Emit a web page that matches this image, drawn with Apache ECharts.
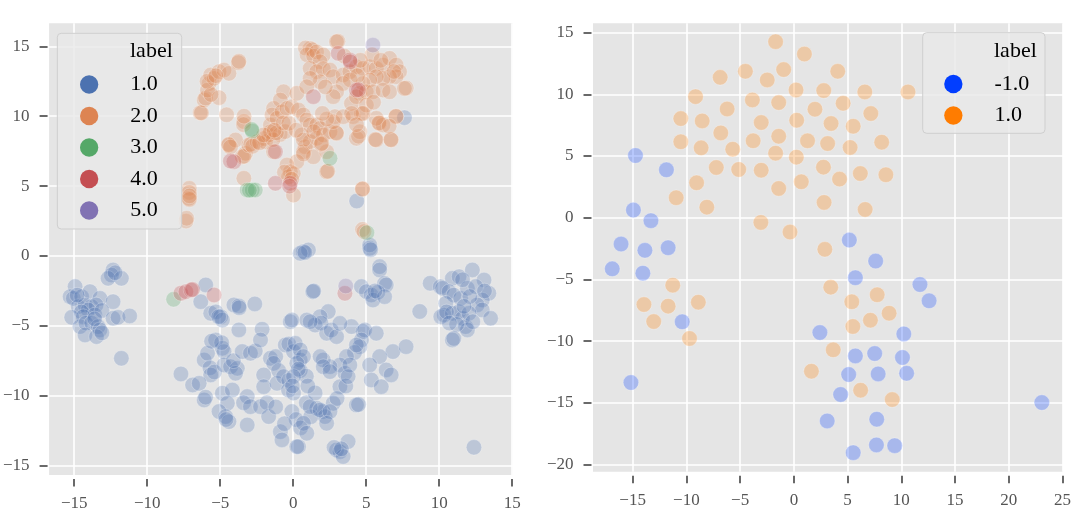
<!DOCTYPE html>
<html>
<head>
<meta charset="utf-8">
<script src="https://cdn.jsdelivr.net/npm/echarts@6/dist/echarts.min.js"></script>
<style>html,body{margin:0;padding:0;background:#fff}#c{width:1082px;height:512px}</style>
</head>
<body>
<div id="c"></div>
<script>
// ---------- tick labels ----------
const L_X_TICKS = [-15, -10, -5, 0, 5, 10, 15];
const L_Y_TICKS = [-15, -10, -5, 0, 5, 10, 15];
const R_X_TICKS = [-15, -10, -5, 0, 5, 10, 15, 20, 25];
const R_Y_TICKS = [-20, -15, -10, -5, 0, 5, 10, 15];

// ---------- left panel categories ----------
const L_LABELS = ['1.0', '2.0', '3.0', '4.0', '5.0'];
// ---------- right panel categories ----------
const R_LABELS = ['-1.0', '1.0'];

// left panel, label 1.0
const L1 = [
[0.7,0.31],[1.04,0.43],[0.48,0.19],[0.8,0.25],[5.24,0.55],[5.24,0.79],[5.3,0.45],[4.35,3.93],[7.62,9.9],
[5.92,-0.76],[5.92,-1.0],[6.26,-1.96],[6.37,-2.07],
[4.67,-2.19],[5.01,-2.55],[5.35,-2.79],[5.46,-3.15],[5.8,-2.6],[6.26,-2.91],[5.6,-2.5],
[1.34,-2.55],[1.4,-2.5],
[9.38,-1.95],[8.67,-3.97],[10.08,-2.2],[10.9,-1.6],[11.36,-1.48],[12.27,-1.0],[13.07,-1.72],[13.4,-2.67],
[10.23,-2.31],[10.68,-2.55],[11.0,-2.8],[11.47,-3.03],[11.93,-2.31],[12.5,-2.19],[12.95,-3.15],[12.6,-3.5],
[12.95,-3.86],[13.52,-4.46],[10.45,-3.39],[10.34,-4.22],[10.11,-4.34],[10.9,-4.1],[11.36,-3.98],[11.59,-4.46],
[11.81,-5.05],[11.93,-5.29],[11.2,-4.9],[12.04,-4.1],[10.9,-6.01],[11.0,-5.9],[12.1,-2.9],[13.1,-2.5],
[11.6,-1.7],[10.5,-4.0],[11.7,-3.6],[12.3,-4.7],[10.7,-4.8],[12.38,-13.69],
[-12.34,-1.0],[-12.45,-1.36],[-12.68,-1.6],[-11.77,-1.6],[-12.2,-1.2],
[-14.94,-2.19],[-15.28,-2.91],[-15.06,-3.03],[-14.49,-2.91],[-13.92,-2.55],[-13.24,-3.03],[-12.34,-3.27],
[-14.72,-3.62],[-14.26,-3.51],[-13.81,-3.62],[-13.5,-3.5],[-14.04,-3.86],[-14.5,-4.0],[-15.17,-4.39],
[-14.38,-4.34],[-13.58,-4.22],[-13.1,-3.9],[-12.34,-4.46],[-12.0,-4.39],[-11.2,-4.29],[-14.6,-5.05],
[-14.2,-4.8],[-13.8,-4.8],[-13.36,-5.05],[-13.24,-5.29],[-14.26,-5.65],[-13.47,-5.77],[-13.1,-5.5],
[-11.77,-7.32],[-14.8,-2.8],[-13.6,-4.5],
[-5.99,-2.07],[-6.33,-3.27],[-5.65,-4.1],[-5.3,-4.0],[-4.97,-4.34],[-4.85,-4.58],[-5.1,-4.34],[-4.06,-3.5],
[-3.72,-3.58],[-3.7,-3.7],[-2.63,-3.43],[-3.72,-5.29],[-2.13,-5.24],[-0.2,-4.7],
[-5.31,-6.01],[-4.85,-6.6],[-4.74,-6.84],[-4.9,-6.2],[-6.1,-7.44],[-5.87,-6.96],[-5.7,-8.0],[-5.65,-8.51],
[-5.4,-8.3],[-4.74,-7.8],[-4.29,-7.92],[-3.83,-8.04],[-3.95,-8.39],[-4.1,-7.5],[-3.49,-6.84],[-2.93,-6.96],
[-2.6,-6.8],[-2.24,-6.01],[-1.56,-7.32],[-1.2,-7.2],[-1.34,-7.68],[-2.02,-8.51],[-1.0,-8.2],[-0.54,-6.37],
[-0.3,-6.3],[0.02,-6.84],[0.48,-7.44],[0.48,-8.2],[0.9,-8.6],[-7.69,-8.44],[-6.89,-9.23],[-6.44,-9.11],
[-6.1,-10.3],[-6.0,-10.1],[-4.85,-9.82],[-4.17,-9.59],[-4.51,-10.54],[-5.08,-11.13],[-4.63,-11.49],
[-4.4,-11.85],[-4.6,-11.7],[-3.15,-10.06],[-3.4,-10.5],[-2.93,-10.78],[-3.15,-12.09],[-2.24,-10.78],
[-1.8,-10.5],[-1.68,-11.49],[-1.2,-10.8],[-2.02,-9.35],[-1.11,-9.11],[-0.66,-8.63],[-0.3,-8.9],
[-0.32,-9.59],[0.02,-9.8],[-0.09,-11.13],[0.2,-11.7],[-0.88,-12.57],[-0.77,-13.16],[0.36,-13.64],
[0.5,-12.3],[0.9,-10.5],[-0.6,-12.0],[-5.59,-6.1],
[2.4,-3.98],[1.84,-4.34],[1.5,-4.94],[1.9,-4.8],[2.29,-5.53],[0.93,-4.58],[-0.09,-4.58],[1.16,-4.7],
[2.6,-5.3],[2.97,-5.77],[3.99,-5.05],[4.78,-5.41],[4.9,-5.29],[5.69,-5.53],[4.67,-6.01],[4.56,-6.49],
[4.2,-6.9],[6.83,-6.84],[7.73,-6.49],[5.92,-7.2],[5.24,-7.8],[6.37,-8.15],[6.71,-8.51],[5.35,-8.87],
[6.03,-9.35],[3.65,-7.2],[3.2,-7.8],[3.54,-8.39],[3.2,-9.35],[3.6,-9.3],[2.52,-7.92],[2.06,-7.44],
[1.84,-7.2],[2.06,-7.92],[2.52,-8.27],[3.88,-7.8],[3.76,-8.63],[4.33,-6.37],[3.2,-4.82],[0.14,-6.25],
[0.48,-6.72],[0.7,-7.2],[0.25,-7.68],[0.35,-8.1],[0.02,-8.63],[-0.05,-9.3],[2.74,-10.54],[2.06,-11.13],
[1.61,-10.9],[2.18,-11.49],[1.2,-11.5],[4.33,-10.66],[4.47,-10.63],[3.0,-10.2],[1.16,-10.78],[1.84,-11.02],
[2.52,-11.13],[2.29,-11.97],[0.7,-11.97],[0.93,-12.68],[0.25,-13.64],[2.97,-13.88],[3.2,-14.0],
[3.42,-14.35],[3.76,-13.28],[2.8,-13.7],[3.3,-13.8],[1.5,-9.8],[1.0,-9.3]
];
// left panel, label 2.0
const L2 = [
[-6.37,10.25],[-6.29,10.24],[-6.1,11.16],[-6.0,11.3],[-5.76,12.35],[-5.87,11.87],[-5.65,12.95],[-5.42,12.71],
[-5.08,13.19],[-4.74,13.3],[-4.4,13.07],[-3.76,13.83],[-3.72,13.93],[-5.08,11.33],[-5.63,11.55],[-5.9,12.5],
[-5.3,12.9],
[-7.12,4.84],[-7.12,4.55],[-7.15,4.13],[-7.11,4.05],[-7.1,4.3],[-7.34,2.5],[-7.3,2.7],
[-4.56,10.1],[-3.38,9.62],[-3.4,9.4],
[-4.4,7.94],[-3.95,8.3],[-4.42,7.98],[-4.3,7.8],[-3.49,7.1],[-3.27,7.34],[-3.37,7.14],[-3.04,7.94],[-2.9,8.0],
[-2.47,8.18],[-2.0,8.4],[-1.9,8.18],[-1.68,8.66],[-1.56,9.37],[-1.34,10.56],[-0.66,11.75],[-0.88,11.16],
[-1.45,10.09],[-1.11,9.85],[-0.77,10.32],[-0.43,10.56],[-0.09,10.68],[0.25,11.64],[0.36,10.44],[0.7,10.09],
[0.93,9.73],[1.16,9.37],[1.61,9.37],[1.84,9.13],[0.59,8.66],[0.82,7.82],[0.7,7.46],[1.16,8.18],[1.61,8.42],
[2.06,8.66],[2.52,8.89],[2.97,8.77],[2.95,8.81],[2.86,9.97],[2.74,9.61],[2.3,9.8],[3.42,9.97],[4.1,9.97],
[4.67,10.2],[5.92,9.49],[6.15,9.37],[5.69,9.85],[7.05,9.97],[7.04,10.0],[4.33,8.42],[4.56,8.89],[5.69,8.3],
[6.71,8.3],[6.69,8.33],[5.63,8.33],[4.47,8.57],[-1.56,8.89],[-0.9,8.7],[-0.55,8.9],[-1.34,7.46],[0.25,6.75],
[0.7,8.3],[1.38,7.1],[2.29,7.46],[1.9,8.0],[-0.43,6.51],[-0.2,6.03],[-0.32,5.67],[0.0,5.9],[-0.6,6.0],
[0.02,4.36],[2.29,6.03],[2.36,6.07],[-3.38,5.56],[4.74,4.77],[4.75,4.81],[4.75,1.9],[4.85,1.75],
[-2.78,7.86],[-2.31,8.1],[-1.38,8.33],[-1.15,8.81],[-0.68,9.52],[-3.37,10.0],
[1.16,14.85],[0.84,14.88],[1.31,14.76],[0.95,14.4],[1.4,14.3],[1.6,14.6],[3.06,15.36],[2.97,15.33],
[2.06,14.38],[1.84,13.9],[1.16,13.42],[1.61,13.19],[2.06,13.4],[2.52,13.3],[2.74,12.83],[3.42,12.95],
[3.88,13.19],[4.33,13.54],[4.78,13.42],[5.24,13.54],[5.69,13.42],[6.15,13.66],[6.6,14.14],[7.05,13.66],
[7.28,13.19],[7.05,12.83],[6.6,12.83],[6.15,12.7],[5.69,12.83],[5.24,12.59],[4.78,12.35],[4.56,11.64],
[5.0,11.75],[5.46,11.75],[6.15,11.87],[6.6,11.75],[7.74,12.02],[7.62,11.99],[3.42,12.35],[2.97,11.75],
[2.74,11.4],[1.84,12.47],[1.16,12.71],[0.93,12.11],[3.99,10.92],[4.33,11.4],[5.01,10.8],[4.78,10.2],
[4.0,10.2],[4.33,9.4],[5.5,11.0],[5.4,14.4],[4.6,14.0],[3.5,14.3],[6.0,14.0],[6.9,13.2],[2.2,12.1],
[3.9,12.6],[4.4,12.9],
[-2.02,8.66],[-1.3,9.0],[-0.3,9.5],[0.2,9.0],[1.4,8.9],[2.0,10.2],[-0.1,5.5],[0.7,7.3],[1.95,8.06],
[5.87,9.52],[6.57,9.29]
];
// left panel, label 3.0
const L3 = [
[-2.81,8.94],[-2.85,9.05],[2.52,6.99],[-3.15,4.72],[-2.81,4.72],[-2.6,4.72],[-3.0,4.7],[5.05,1.67],[-8.19,-3.1]
];
// left panel, label 4.0
const L4 = [
[-4.06,6.75],[-4.3,6.79],[-1.22,7.46],[-1.22,5.2],[-0.2,5.2],[-0.25,5.0],[3.08,14.5],[3.88,14.02],[3.9,13.9],
[4.33,11.87],[4.47,11.9],[1.38,11.4],[-7.69,-2.67],[-7.35,-2.55],[-7.0,-2.43],[-6.9,-2.4],[-5.42,-2.79],[3.54,-2.67]
];
// left panel, label 5.0
const L5 = [
[5.46,15.09],[3.6,-2.15]
];

// right panel, label -1.0
const R_NEG = [
[-14.74,5.04],[-11.86,3.88],[-14.93,0.62],[-13.3,-0.24],[-16.08,-2.13],[-13.86,-2.64],[-11.7,-2.43],[5.16,-1.81],
[7.61,-3.51],[-16.9,-4.14],[-14.05,-4.49],[5.72,-4.86],[11.73,-5.41],[12.58,-6.73],[-10.39,-8.43],[2.42,-9.3],
[10.23,-9.41],[5.72,-11.19],[7.52,-11.0],[10.1,-11.32],[5.1,-12.7],[7.84,-12.65],[10.49,-12.6],[-15.16,-13.35],
[4.35,-14.32],[23.07,-14.97],[3.1,-16.46],[7.71,-16.32],[7.68,-18.4],[9.38,-18.46],[5.52,-19.03]
];
// right panel, label 1.0
const R_POS = [
[-1.7,14.26],[0.98,13.26],[-6.86,11.37],[-4.51,11.86],[-2.48,11.16],[-0.95,12.0],[4.08,11.86],[-9.15,9.81],
[-3.86,9.54],[-1.41,9.33],[0.2,10.35],[2.78,10.3],[6.6,10.19],[10.62,10.19],[-6.21,8.81],[1.96,8.79],[4.58,9.27],
[7.16,8.44],[-10.52,8.03],[-8.53,7.84],[-3.04,7.71],[0.26,7.9],[3.46,7.63],[5.52,7.41],[-6.8,6.87],[-1.41,6.6],
[-10.52,6.15],[-8.63,5.66],[-5.69,5.55],[-3.79,6.23],[1.27,6.23],[3.14,6.01],[5.23,5.69],[8.17,6.12],[-1.7,5.23],
[0.23,4.91],[-7.22,4.07],[-5.13,3.91],[-3.04,3.85],[2.75,4.1],[4.25,3.13],[6.18,3.58],[8.56,3.48],[-9.05,2.83],
[-1.41,2.37],[0.69,2.91],[-10.95,1.62],[-8.1,0.86],[2.81,1.24],[6.63,0.67],[-3.07,-0.38],[-0.36,-1.16],
[2.88,-2.56],[-11.27,-5.46],[-13.95,-7.03],[-11.7,-7.16],[-8.89,-6.84],[-13.04,-8.41],[-9.71,-9.78],[3.43,-5.62],
[5.39,-6.81],[7.75,-6.24],[8.86,-7.73],[7.12,-8.3],[5.49,-8.81],[3.66,-10.7],[1.63,-12.43],[6.21,-13.97],
[9.15,-14.73]
];

const L_SERIES = [L1, L2, L3, L4, L5];
const L_COLORS = ['#4C72B0', '#DD8452', '#55A868', '#C44E52', '#8172B3'];
const R_SERIES = [R_NEG, R_POS];
const R_COLORS = ['#023EFF', '#FF7C00'];

const FONT = 'Liberation Serif';
const minus = v => String(v).replace('-', '\u2212');

function xAxisCfg(grid, min, max, ticks) {
  return {
    gridIndex: grid, type: 'value', min: min, max: max, offset: 4,
    axisLine: { show: false, onZero: false },
    axisTick: { show: true, length: 7.5, customValues: ticks, lineStyle: { color: '#444', width: 1.6 } },
    axisLabel: { customValues: ticks, margin: 16, color: '#555', fontFamily: FONT, fontSize: 17, formatter: minus },
    splitLine: { show: true, lineStyle: { color: '#ffffff', width: 1.6 } }
  };
}
function yAxisCfg(grid, min, max, ticks) {
  return {
    gridIndex: grid, type: 'value', min: min, max: max, offset: 1.5,
    axisLine: { show: false, onZero: false },
    axisTick: { show: true, length: 8, customValues: ticks, lineStyle: { color: '#444', width: 1.6 } },
    axisLabel: { customValues: ticks, margin: 18, color: '#555', fontFamily: FONT, fontSize: 17, formatter: minus },
    splitLine: { show: true, lineStyle: { color: '#ffffff', width: 1.6 } }
  };
}

const series = [];
L_SERIES.forEach((d, i) => series.push({
  type: 'scatter', name: L_LABELS[i], xAxisIndex: 0, yAxisIndex: 0, data: d, symbolSize: 15.5,
  itemStyle: { color: L_COLORS[i], opacity: 0.27, borderColor: '#ffffff', borderWidth: 1 },
  emphasis: { disabled: true }, z: 2
}));
R_SERIES.forEach((d, i) => series.push({
  type: 'scatter', name: 'R:' + R_LABELS[i], xAxisIndex: 1, yAxisIndex: 1, data: d, symbolSize: 15.5,
  itemStyle: { color: R_COLORS[i], opacity: 0.27, borderColor: '#ffffff', borderWidth: 1 },
  emphasis: { disabled: true }, z: 2
}));

const legendCommon = {
  orient: 'vertical', icon: 'circle', itemWidth: 18.3, itemHeight: 18.3, itemGap: 9.5, padding: 0,
  selectedMode: false, z: 8,
  textStyle: { fontFamily: FONT, fontSize: 22, color: '#000', lineHeight: 18.3, padding: [0, 0, 0, 27] },
  itemStyle: { opacity: 1, borderWidth: 0 }
};

const option = {
  animation: false,
  backgroundColor: '#ffffff',
  grid: [
    { left: 47.3, top: 23.3, right: 569.5, bottom: 37, show: true, backgroundColor: '#E5E5E5', borderWidth: 0, containLabel: false },
    { left: 593, top: 23.3, right: 19.2, bottom: 40.3, show: true, backgroundColor: '#E5E5E5', borderWidth: 0, containLabel: false }
  ],
  xAxis: [ xAxisCfg(0, -16.72, 15.02, L_X_TICKS), xAxisCfg(1, -18.69, 25.02, R_X_TICKS) ],
  yAxis: [ yAxisCfg(0, -15.67, 16.65, L_Y_TICKS), yAxisCfg(1, -20.57, 15.75, R_Y_TICKS) ],
  legend: [
    Object.assign({}, legendCommon, { left: 80, top: 73.5, data: L_LABELS }),
    Object.assign({}, legendCommon, { left: 944.2, top: 73, data: R_LABELS.map(n => 'R:' + n),
      formatter: n => n.replace('R:', '') })
  ],
  graphic: [
    { type: 'rect', z: 6, shape: { x: 57.3, y: 33.3, width: 124.4, height: 195.7, r: 4 },
      style: { fill: 'rgba(232,232,232,0.8)', stroke: '#cfcfcf', lineWidth: 1 } },
    { type: 'text', z: 9, x: 130, y: 51, style: { text: 'label', fontFamily: FONT, fontSize: 22, fill: '#000', verticalAlign: 'middle', align: 'left' } },
    { type: 'rect', z: 6, shape: { x: 922.7, y: 32.7, width: 122.3, height: 100.6, r: 4 },
      style: { fill: 'rgba(232,232,232,0.8)', stroke: '#cfcfcf', lineWidth: 1 } },
    { type: 'text', z: 9, x: 994, y: 51.7, style: { text: 'label', fontFamily: FONT, fontSize: 22, fill: '#000', verticalAlign: 'middle', align: 'left' } }
  ],
  series: series
};

const chart = echarts.init(document.getElementById('c'), null, { renderer: 'canvas' });
chart.setOption(option);
</script>
</body>
</html>
